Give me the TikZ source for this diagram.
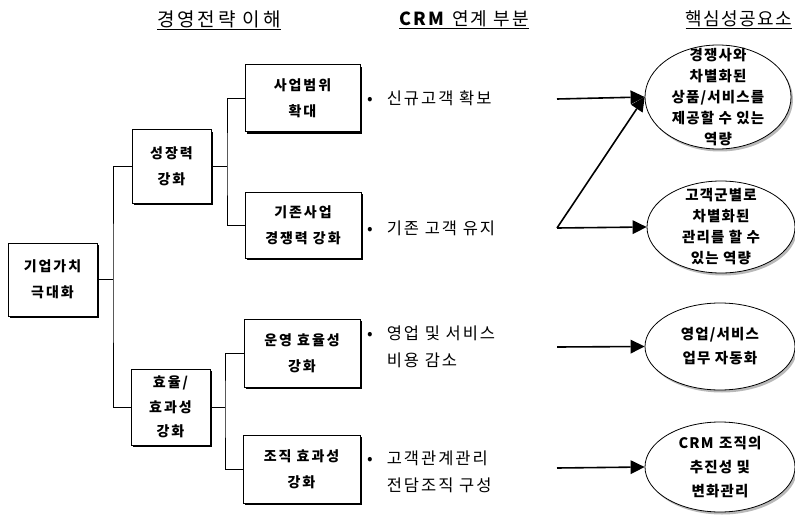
\documentclass[tikz,border=0pt]{standalone}
\usepackage{fontspec}
\setmainfont{Noto Sans CJK KR}
\usetikzlibrary{shapes.geometric,shadows,arrows.meta}
\newcommand{\spaced}[1]{\addfontfeature{LetterSpace=#1}}
\tikzset{
  stratbox/.style={draw, line width=1pt, fill=white, align=center, inner sep=0pt,
    font=\bfseries\fontsize{14}{26}\selectfont\spaced{14},
    drop shadow={shadow xshift=2pt, shadow yshift=-2pt, fill=black, opacity=1}},
  link/.style={line width=0.8pt},
  crmtext/.style={anchor=west, inner sep=0pt, font=\fontsize{16.5}{27}\selectfont\spaced{12}},
  arr/.style={line width=1.6pt, arrows={-Triangle[length=14pt, width=14pt, line width=0pt]}},
  csf/.style={draw, ellipse, line width=0.8pt, fill=white,
    drop shadow={shadow xshift=2pt, shadow yshift=-2.5pt, fill=gray!55, opacity=1}},
  csftext/.style={align=center, inner sep=0pt, font=\bfseries\fontsize{14.5}{21}\selectfont\spaced{8}},
  head/.style={inner sep=0pt, font=\fontsize{19}{20}\selectfont\spaced{15}}
}
\begin{document}
\begin{tikzpicture}[x=1pt,y=-1pt]
\useasboundingbox (0,0) rectangle (795,524);

% column headings
\node[head] (h1) at (219,20) {\underline{경영전략 이해}};
\node[head, font=\fontsize{18}{20}\selectfont\spaced{12}] (h2) at (464,20) {\underline{\textbf{CRM} 연계 부분}};
\node[head, font=\fontsize{18}{20}\selectfont\spaced{8}] (h3) at (739,20) {\underline{핵심성공요소}};

% strategy tree
\node[stratbox, minimum width=89, minimum height=73] (top)   at (52.5,279.5) {기업가치\\극대화};
\node[stratbox, minimum width=79, minimum height=73] (grow)  at (171.5,166.5) {성장력\\강화};
\node[stratbox, minimum width=79, minimum height=76, font=\bfseries\fontsize{14}{24.5}\selectfont\spaced{14}] (eff) at (170.5,407) {효율/\\효과성\\강화};
\node[stratbox, minimum width=115, minimum height=67] (scope) at (302.5,98.5) {사업범위\\확대};
\node[stratbox, minimum width=116, minimum height=66] (comp)  at (303,225) {기존사업\\경쟁력 강화};
\node[stratbox, minimum width=116, minimum height=68] (oper)  at (302,353) {운영 효율성\\강화};
\node[stratbox, minimum width=117, minimum height=68] (org)   at (301.5,469) {조직 효과성\\강화};

\coordinate (j1) at (113,279.5);
\coordinate (j2) at (227,166.5);
\coordinate (j3) at (225,407);
\draw[link] (top.east) -- (j1);
\draw[link] (grow.west) -| (j1) |- (eff.west);
\draw[link] (grow.east) -- (j2);
\draw[link] (scope.west) -| (j2) |- (comp.west);
\draw[link] (eff.east) -- (j3);
\draw[link] (oper.west) -| (j3) |- (org.west);

% CRM linkage
\newcommand{\crmitem}[1]{\begin{tabular}{@{}l@{\hspace{14pt}}l@{}}#1\end{tabular}}
\node[crmtext] (t1) at (367,99)  {\crmitem{•&신규고객 확보}};
\node[crmtext] (t2) at (367,229) {\crmitem{•&기존 고객 유지}};
\node[crmtext] (t3) at (367,348) {\crmitem{•&영업 및 서비스\\&비용 감소}};
\node[crmtext] (t4) at (367,473) {\crmitem{•&고객관계관리\\&전담조직 구성}};

% key success factors
\node[csf, minimum width=146, minimum height=104] (e1) at (718,97) {};
\node[csf, minimum width=148, minimum height=92]  (e2) at (721,227) {};
\node[csf, minimum width=150, minimum height=87]  (e3) at (720,346.5) {};
\node[csf, minimum width=150, minimum height=90]  (e4) at (720,467) {};
\node[csftext] (e1t) at (e1.center) {경쟁사와\\차별화된\\상품/서비스를\\제공할 수 있는\\역량};
\node[csftext] (e2t) at (e2.center) {고객군별로\\차별화된\\관리를 할 수\\있는 역량};
\node[csftext, font=\bfseries\fontsize{14.5}{24}\selectfont\spaced{8}] (e3t) at (e3.center) {영업/서비스\\업무 자동화};
\node[csftext, font=\bfseries\fontsize{14.5}{24}\selectfont\spaced{8}] (e4t) at (e4.center) {\textit{CRM} 조직의\\추진성 및\\변화관리};

\coordinate (c1) at (557,99);
\coordinate (c2) at (557,228);
\coordinate (c3) at (557,347);
\coordinate (c4) at (557,468);
\draw[arr] (c1) -- (e1.west);
\draw[arr] (c2) -- (e1.west);
\draw[arr] (c2) -- (e2.west);
\draw[arr] (c3) -- (e3.west);
\draw[arr] (c4) -- (e4.west);
\end{tikzpicture}
\end{document}
